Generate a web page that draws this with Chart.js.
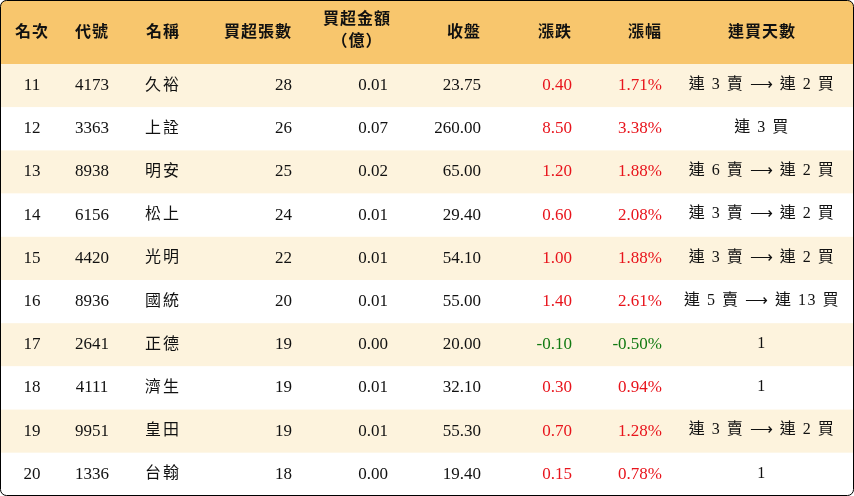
<!DOCTYPE html>
<html><head><meta charset="utf-8">
<script src="https://cdn.jsdelivr.net/npm/chart.js@4"></script>
<style>html,body{margin:0;padding:0;background:#fff}canvas{display:block}</style>
</head><body>
<canvas id="c" width="854" height="496"></canvas>
<script>
const headers = ['名次', '代號', '名稱', '買超張數', '買超金額\n（億）', '收盤', '漲跌', '漲幅', '連買天數'];
const ranks = ['11', '12', '13', '14', '15', '16', '17', '18', '19', '20'];
const codes = ['4173', '3363', '8938', '6156', '4420', '8936', '2641', '4111', '9951', '1336'];
const names = ['久裕', '上詮', '明安', '松上', '光明', '國統', '正德', '濟生', '皇田', '台翰'];
const netLots = [28, 26, 25, 24, 22, 20, 19, 19, 19, 18];
const netAmount = ['0.01', '0.07', '0.02', '0.01', '0.01', '0.01', '0.00', '0.01', '0.01', '0.00'];
const closes = ['23.75', '260.00', '65.00', '29.40', '54.10', '55.00', '20.00', '32.10', '55.30', '19.40'];
const changes = ['0.40', '8.50', '1.20', '0.60', '1.00', '1.40', '-0.10', '0.30', '0.70', '0.15'];
const changePct = ['1.71%', '3.38%', '1.88%', '2.08%', '1.88%', '2.61%', '-0.50%', '0.94%', '1.28%', '0.78%'];
const streaks = ['連 3 賣 ⟶ 連 2 買', '連 3 買', '連 6 賣 ⟶ 連 2 買', '連 3 賣 ⟶ 連 2 買', '連 3 賣 ⟶ 連 2 買',
  '連 5 賣 ⟶ 連 13 買', '1', '1', '連 3 賣 ⟶ 連 2 買', '1'];

// column anchors in x-scale units: [x, align]
const cols = [[32, 'center'], [92, 'center'], [163, 'center'], [292, 'right'], [388, 'right'],
  [481, 'right'], [572, 'right'], [662, 'right'], [762, 'center']];
const headCols = [[32, 'center'], [92, 'center'], [163, 'center'], [292, 'right'], [357, 'center'],
  [481, 'right'], [572, 'right'], [662, 'right'], [762, 'center']];
const HEAD = 64, ROW = 43.2;

const tablePlugin = {
  id: 'table',
  beforeDatasetsDraw(chart) {
    const { ctx, scales: { x, y } } = chart;
    const X = v => x.getPixelForValue(v), Y = v => y.getPixelForValue(v);
    ctx.save();
    ctx.beginPath();
    ctx.roundRect(X(0) + 0.5, Y(0) + 0.5, X(854) - X(0) - 1, Y(496) - Y(0) - 1, 6);
    ctx.clip();
    ctx.fillStyle = '#f8c66d';
    ctx.fillRect(X(0), Y(0), X(854) - X(0), Y(HEAD) - Y(0));
    ranks.forEach((r, i) => {
      ctx.fillStyle = i % 2 === 0 ? '#fdf3dd' : '#ffffff';
      ctx.fillRect(X(0), Y(HEAD + i * ROW), X(854) - X(0), Y(HEAD + (i + 1) * ROW) - Y(HEAD + i * ROW));
    });
    ctx.restore();

    ctx.textBaseline = 'middle';
    ctx.fillStyle = '#111';
    ctx.font = 'bold 16px "Noto Sans CJK TC", "Liberation Serif"';
    ctx.letterSpacing = '1px';
    headers.forEach((h, j) => {
      ctx.textAlign = headCols[j][1];
      const lines = h.split('\n');
      if (lines.length === 1) ctx.fillText(h, X(headCols[j][0]), Y(31));
      else { ctx.fillText(lines[0], X(headCols[j][0]), Y(18)); ctx.fillText(lines[1], X(headCols[j][0]), Y(40)); }
    });

    ranks.forEach((r, i) => {
      const cy = Y(HEAD + (i + 0.5) * ROW);
      const up = parseFloat(changes[i]) >= 0;
      const cells = [r, codes[i], names[i], String(netLots[i]), netAmount[i], closes[i], changes[i], changePct[i], streaks[i]];
      cells.forEach((t, j) => {
        ctx.textAlign = cols[j][1];
        ctx.fillStyle = '#111';
        ctx.letterSpacing = '0px';
        ctx.font = '17px "Liberation Serif", "Noto Sans CJK TC"';
        let dy = 0;
        if (j === 2) { ctx.font = '16px "Noto Sans CJK TC"'; ctx.letterSpacing = '2px'; dy = -2; }
        if (j === 6 || j === 7) ctx.fillStyle = up ? '#e8141c' : '#127a12';
        if (j === 8) { ctx.font = '16px "Liberation Serif", "Noto Sans CJK TC"'; ctx.letterSpacing = '1.5px'; dy = -1; }
        ctx.fillText(t, X(cols[j][0]), cy + dy);
      });
    });

    ctx.strokeStyle = '#000';
    ctx.lineWidth = 1;
    ctx.beginPath();
    ctx.roundRect(X(0) + 0.5, Y(0) + 0.5, X(854) - X(0) - 1, Y(496) - Y(0) - 1, 6);
    ctx.stroke();
  }
};

new Chart(document.getElementById('c'), {
  type: 'scatter',
  data: { datasets: [{ data: [] }] },
  options: {
    responsive: false,
    animation: false,
    layout: { padding: 0 },
    plugins: { legend: { display: false }, tooltip: { enabled: false } },
    scales: {
      x: { type: 'linear', min: 0, max: 854, display: false },
      y: { type: 'linear', min: 0, max: 496, reverse: true, display: false }
    }
  },
  plugins: [tablePlugin]
});
</script>
</body></html>
